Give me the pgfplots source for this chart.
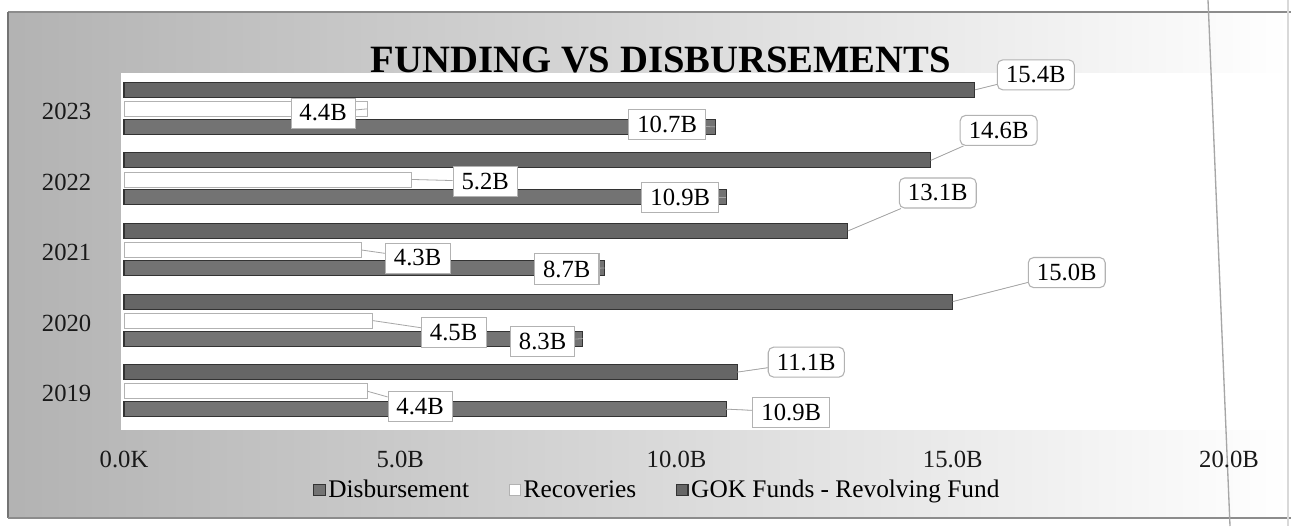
\documentclass[border=0pt]{standalone}
\usepackage{fontspec}
\setmainfont{Liberation Serif}
\usepackage{pgfplots}
\pgfplotsset{compat=1.18}
\usepackage{pgfplotstable}

% y = category index (0=2019 ... 4=2023), x = value in billions,
% dx, dy = offset of the data label from the bar end (px, dy upward)
\pgfplotstableread{
y x dx dy
0 10.9 65 -3
1 8.3 -40 -3
2 8.7 -38 -1
3 10.9 -46 0
4 10.7 -48 2
}\disb
\pgfplotstableread{
y x dx dy
0 4.4 53 -15
1 4.5 81 -12
2 4.3 56 -8
3 5.2 74 -2
4 4.4 -44 -4
}\recov
\pgfplotstableread{
y x dx dy
0 11.1 69 10
1 15.0 114 29
2 13.1 90 38
3 14.6 68 30
4 15.4 61 15
}\gok

\pgfplotsset{
  lbl/.style={
    nodes near coords={\pgfmathprintnumber[fixed,fixed zerofill,precision=1,assume math mode=true]{\pgfplotspointmeta}B},
    visualization depends on={\thisrow{dx}\as\dx},
    visualization depends on={\thisrow{dy}\as\dy},
    nodes near coords style={anchor=center,
      xshift={(\dx)*0.75pt}, yshift={(\dy)*0.75pt},
      fill=white, draw=black!30, inner xsep=6.5pt, inner ysep=5pt, #1,
      font=\fontsize{18.5}{20}\selectfont, text=black,
      append after command={(\tikzlastnode) edge[draw=black!35, line width=0.6pt] ++({-(\dx)*0.75pt},{-(\dy)*0.75pt})}},
  },
}

\begin{document}
\begin{tikzpicture}
\begin{scope}[shift={(0pt,394.5pt)}, x=0.75pt, y=-0.75pt]
\useasboundingbox (0,0) rectangle (1291,526);
% chart background (scanned look)
\fill[left color=black!30, right color=white] (8,12) rectangle (1291,518);
\fill[white] (121,73) rectangle (1291,430);
\draw[black!45, line width=0.8pt] (8,12) -- (1291,12);
\draw[black!55, line width=1pt] (8,12) -- (8,518);
\draw[black!45, line width=0.8pt] (8,518) -- (1291,518);
\draw[black!35, line width=1pt] (1208,0) -- (1230,526);
\draw[black!15, line width=0.8pt] (1288,0) -- (1288,526);
\end{scope}

\begin{axis}[
  at={(93pt,75.75pt)}, anchor=south west,
  scale only axis, width=828.75pt, height=262.5pt,
  xbar, bar width=11.25pt,
  xmin=0, xmax=20, ymin=-0.48, ymax=4.48,
  xtick={0,5,10,15,20},
  xticklabels={0.0K,5.0B,10.0B,15.0B,20.0B},
  ytick={0,1,2,3,4},
  yticklabels={2019,2020,2021,2022,2023},
  axis line style={draw=none}, major tick length=0pt,
  tick label style={font=\fontsize{18.5}{20}\selectfont, text=black!90},
  xticklabel style={yshift=-16pt},
  yticklabel style={xshift=-21pt, yshift=-2pt},
  clip=false,
  point meta=x,
  legend columns=3,
  legend style={at={(0.483,-0.185)}, anchor=center, draw=none, fill=none,
    font=\fontsize{19}{20}\selectfont,
    /tikz/every even column/.append style={column sep=28pt}},
  legend image code/.code={\draw[#1] (0pt,-4.2pt) rectangle (8.5pt,4.2pt);},
]
\addplot[bar shift=-13.5pt, draw=black!80, line width=0.8pt, fill=black!55, lbl={}]
  table[x=x,y=y] {\disb};
\addlegendentry{Disbursement}
\addplot[bar shift=0pt, draw=black!30, fill=white, lbl={}]
  table[x=x,y=y] {\recov};
\addlegendentry{Recoveries}
\addplot[bar shift=14.25pt, draw=black!80, line width=0.8pt, fill=black!60, lbl={rounded corners=4pt}]
  table[x=x,y=y] {\gok};
\addlegendentry{GOK Funds - Revolving Fund}
\end{axis}

\begin{scope}[shift={(0pt,394.5pt)}, x=0.75pt, y=-0.75pt]
\node at (661,60) {\fontsize{29}{32}\selectfont\bfseries FUNDING VS DISBURSEMENTS};
\end{scope}
\end{tikzpicture}
\end{document}
